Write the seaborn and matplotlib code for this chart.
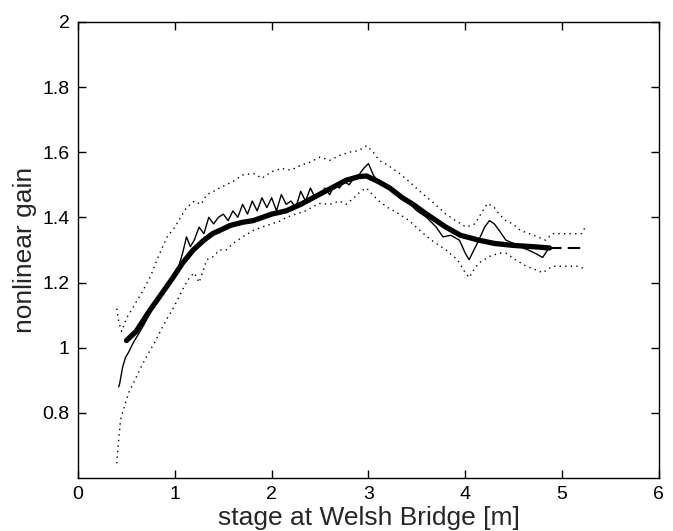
import numpy as np
import matplotlib
matplotlib.use("Agg")
import matplotlib.pyplot as plt
import seaborn as sns

# ---- data ----
# smoothed gain curve (thick line)
fit_x = [0.50, 0.60, 0.74, 0.85, 0.98, 1.08, 1.19, 1.30, 1.39, 1.50, 1.57, 1.70, 1.81,
         2.00, 2.15, 2.30, 2.49, 2.65, 2.77, 2.90, 2.98, 3.10, 3.22, 3.35, 3.46, 3.60,
         3.80, 3.95, 4.14, 4.30, 4.49, 4.70, 4.87]
fit_y = [1.022, 1.05, 1.114, 1.16, 1.215, 1.26, 1.30, 1.33, 1.35, 1.365, 1.375, 1.385, 1.39,
         1.41, 1.42, 1.44, 1.47, 1.495, 1.514, 1.525, 1.527, 1.51, 1.49, 1.46, 1.44, 1.41,
         1.37, 1.345, 1.33, 1.32, 1.314, 1.31, 1.306]

# extrapolated part (dashed)
ext_x = [4.87, 5.25]
ext_y = [1.305, 1.305]

# raw gain estimate (thin line)
raw_x = [0.42, 0.43, 0.46, 0.49, 0.52, 0.57, 0.62, 0.68, 0.75, 0.82, 0.88, 0.94, 1.00,
         1.04, 1.08, 1.12, 1.16, 1.20, 1.25, 1.30, 1.35, 1.40, 1.45, 1.50, 1.55, 1.60,
         1.65, 1.70, 1.75, 1.80, 1.85, 1.90, 1.95, 2.00, 2.05, 2.10, 2.15, 2.20, 2.25,
         2.30, 2.35, 2.40, 2.45, 2.50, 2.55, 2.60, 2.65, 2.70, 2.75, 2.80, 2.85, 2.90,
         2.95, 3.00, 3.05, 3.10, 3.20, 3.30, 3.40, 3.50, 3.60, 3.70, 3.77, 3.85, 3.94,
         4.00, 4.04, 4.09, 4.14, 4.20, 4.25, 4.30, 4.35, 4.42, 4.50, 4.56, 4.65, 4.72,
         4.80, 4.85]
raw_y = [0.88, 0.89, 0.94, 0.97, 0.985, 1.015, 1.04, 1.07, 1.11, 1.14, 1.17, 1.19, 1.23,
         1.25, 1.29, 1.34, 1.31, 1.33, 1.37, 1.35, 1.40, 1.38, 1.40, 1.41, 1.39, 1.42,
         1.40, 1.44, 1.41, 1.45, 1.42, 1.46, 1.43, 1.46, 1.42, 1.47, 1.44, 1.45, 1.43,
         1.48, 1.45, 1.49, 1.46, 1.47, 1.49, 1.47, 1.50, 1.49, 1.51, 1.50, 1.52, 1.53,
         1.55, 1.565, 1.53, 1.51, 1.49, 1.47, 1.45, 1.42, 1.40, 1.37, 1.34, 1.345, 1.33,
         1.29, 1.27, 1.30, 1.33, 1.37, 1.39, 1.38, 1.36, 1.33, 1.32, 1.31, 1.30, 1.29,
         1.277, 1.30]

# confidence bounds (dotted)
up_x = [0.40, 0.42, 0.45, 0.50, 0.58, 0.67, 0.75, 0.83, 0.92, 1.00, 1.06, 1.12, 1.20,
        1.27, 1.33, 1.40, 1.46, 1.53, 1.60, 1.70, 1.81, 1.90, 2.00, 2.10, 2.20, 2.30,
        2.40, 2.50, 2.60, 2.70, 2.80, 2.90, 2.98, 3.05, 3.11, 3.20, 3.32, 3.42, 3.53,
        3.65, 3.80, 3.90, 4.01, 4.10, 4.18, 4.23, 4.30, 4.35, 4.42, 4.49, 4.57, 4.66,
        4.75, 4.83, 4.90, 5.00, 5.10, 5.20, 5.24]
up_y = [1.12, 1.08, 1.05, 1.09, 1.13, 1.175, 1.22, 1.28, 1.34, 1.37, 1.40, 1.43, 1.45,
        1.44, 1.47, 1.48, 1.49, 1.50, 1.51, 1.53, 1.535, 1.52, 1.54, 1.55, 1.545, 1.56,
        1.57, 1.585, 1.575, 1.59, 1.60, 1.605, 1.62, 1.60, 1.575, 1.56, 1.535, 1.51, 1.48,
        1.45, 1.41, 1.39, 1.37, 1.38, 1.42, 1.443, 1.43, 1.41, 1.39, 1.38, 1.36, 1.35,
        1.34, 1.33, 1.35, 1.35, 1.35, 1.35, 1.37]

lo_x = [0.40, 0.42, 0.44, 0.47, 0.52, 0.57, 0.65, 0.72, 0.78, 0.85, 0.92, 0.98, 1.05,
        1.10, 1.15, 1.20, 1.25, 1.33, 1.40, 1.46, 1.53, 1.60, 1.70, 1.81, 1.90, 2.00,
        2.10, 2.15, 2.25, 2.35, 2.49, 2.60, 2.70, 2.77, 2.85, 2.92, 2.98, 3.04, 3.11,
        3.20, 3.32, 3.42, 3.53, 3.65, 3.80, 3.92, 4.00, 4.04, 4.09, 4.14, 4.25, 4.35,
        4.42, 4.52, 4.63, 4.72, 4.80, 4.90, 5.00, 5.10, 5.18, 5.23]
lo_y = [0.645, 0.72, 0.78, 0.81, 0.86, 0.89, 0.94, 0.98, 1.01, 1.05, 1.09, 1.12, 1.16,
        1.19, 1.215, 1.23, 1.20, 1.27, 1.28, 1.30, 1.30, 1.32, 1.34, 1.36, 1.37, 1.38,
        1.39, 1.40, 1.41, 1.42, 1.443, 1.44, 1.45, 1.44, 1.46, 1.48, 1.49, 1.47, 1.45,
        1.43, 1.41, 1.39, 1.36, 1.33, 1.30, 1.27, 1.23, 1.215, 1.24, 1.26, 1.28, 1.29,
        1.29, 1.27, 1.25, 1.24, 1.23, 1.25, 1.25, 1.25, 1.25, 1.24]

x_ticks = [0, 1, 2, 3, 4, 5, 6]
y_ticks = [0.8, 1.0, 1.2, 1.4, 1.6, 1.8, 2.0]
y_tick_labels = ["0.8", "1", "1.2", "1.4", "1.6", "1.8", "2"]

# ---- plot ----
sns.set_style("ticks")
plt.rcParams["font.family"] = ["Liberation Sans", "DejaVu Sans"]

fig = plt.figure(figsize=(6.73, 5.31), dpi=100)
ax = fig.add_axes([0.116, 0.0998, 0.863, 0.859])

dot = (0, (1, 3))
sns.lineplot(x=up_x, y=up_y, ax=ax, color="black", lw=1.0, linestyle=dot,
             sort=False, estimator=None)
sns.lineplot(x=lo_x, y=lo_y, ax=ax, color="black", lw=1.0, linestyle=dot,
             sort=False, estimator=None)
sns.lineplot(x=raw_x, y=raw_y, ax=ax, color="black", lw=1.0,
             sort=False, estimator=None)
sns.lineplot(x=fit_x, y=fit_y, ax=ax, color="black", lw=3.8,
             sort=False, estimator=None)
sns.lineplot(x=ext_x, y=ext_y, ax=ax, color="black", lw=1.5, linestyle=(0, (6, 3)),
             sort=False, estimator=None)

ax.set_xlim(0, 6)
ax.set_ylim(0.6, 2.0)
ax.set_xticks(x_ticks)
ax.set_yticks(y_ticks)
ax.set_yticklabels(y_tick_labels)

for s in ax.spines.values():
    s.set_visible(True)
    s.set_linewidth(1.0)
    s.set_color("black")
ax.tick_params(direction="in", length=6, width=1, top=True, right=True,
               labelsize=14, colors="black", pad=6)

ax.set_xlabel("stage at Welsh Bridge [m]", fontsize=19, labelpad=2)
ax.set_ylabel("nonlinear gain", fontsize=19, labelpad=4)

fig.savefig("out.png", dpi=100)
